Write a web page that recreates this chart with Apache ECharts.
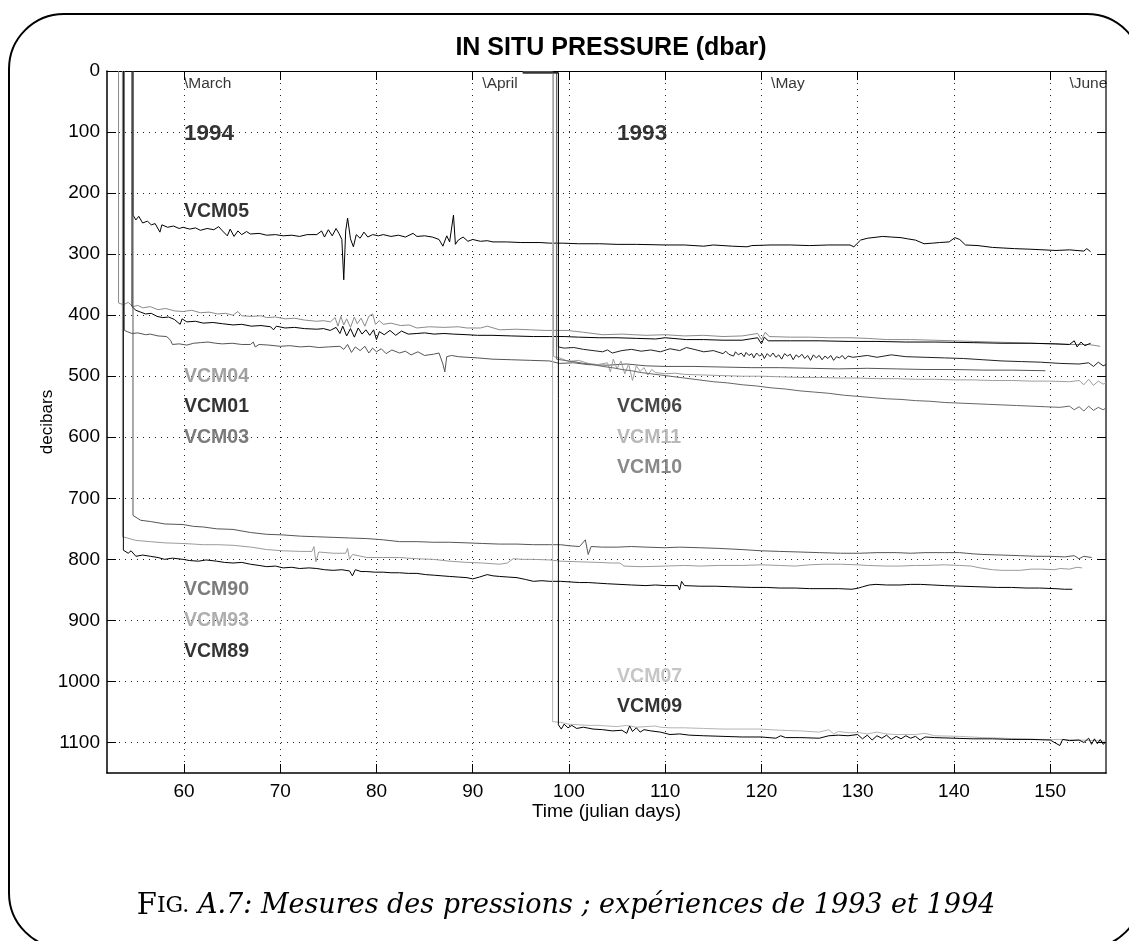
<!DOCTYPE html>
<html>
<head>
<meta charset="utf-8">
<script src="https://cdn.jsdelivr.net/npm/echarts@6/dist/echarts.min.js"></script>
<style>
html,body{margin:0;padding:0;background:#fff;}
#chart{width:1129px;height:941px;}
</style>
</head>
<body>
<div id="chart"></div>
<script>
// ---- tick labels ----
const xTicks = [60, 70, 80, 90, 100, 110, 120, 130, 140, 150];
const yTicks = [0, 100, 200, 300, 400, 500, 600, 700, 800, 900, 1000, 1100];
const monthNames = ['\\March', '\\April', '\\May', '\\June'];
const monthDays = [60, 91, 121, 152];

// ---- 1994 series [julian day, pressure dbar] ----
const vcm05 = [[54.7,0],[54.7,236],[55.0,244],[55.3,238],[55.7,249],[56.2,246],[56.6,252],[57.0,250],[57.5,264],[57.7,252],[58.3,256],[58.9,254],[59.5,258],[59.9,256],[60.6,259],[61.2,257],[61.7,261],[62.4,258],[63.1,260],[63.6,255],[64.0,262],[64.5,270],[64.8,259],[65.2,271],[65.6,262],[66.0,268],[66.5,263],[66.9,267],[67.8,266],[68.6,269],[69.5,268],[70.3,270],[71.2,269],[72.0,271],[72.8,268],[73.8,268],[74.3,262],[74.6,272],[75.0,260],[75.4,270],[75.8,258],[76.1,266],[76.4,276],[76.6,342],[76.8,262],[77.0,241],[77.3,275],[77.6,288],[77.9,268],[78.3,274],[78.7,264],[79.1,272],[79.6,268],[80.2,270],[80.7,268],[81.5,271],[82.3,269],[83.0,272],[83.8,266],[84.2,271],[85.0,270],[85.8,272],[86.5,276],[86.9,287],[87.3,270],[87.6,280],[88.0,236],[88.2,284],[88.5,277],[89.0,272],[89.5,279],[90.0,276],[90.8,279],[91.5,278],[92.1,280],[93.5,280],[95,281],[97,281],[98,282],[99.3,282],[101,283],[103.2,283],[105,284],[107,284],[110,285],[112,285],[114,287],[115,285],[117,287],[118.5,288],[119,286],[121,285],[123,285],[125,286],[127,285],[129.2,285],[129.6,288],[130.3,277],[131,274],[132.6,271],[133.5,272],[134.5,273],[135.2,275],[136,277],[136.9,283],[137.8,282],[138.5,281],[139.5,280],[140.1,273],[140.6,276],[141.2,285],[142.5,286],[144,289],[146.3,291],[148,292],[150.6,294],[152,293],[153.5,295],[153.8,291],[154.2,296]];
const vcm04 = [[53.2,0],[53.2,380],[53.7,383],[54.2,379],[54.7,386],[55.2,384],[55.7,388],[56.5,386],[57.3,391],[58.1,389],[59.0,393],[59.9,394],[60.8,392],[61.7,396],[62.6,395],[63.5,398],[64.3,397],[65.1,400],[65.6,394],[66.0,401],[67.0,402],[68.0,401],[68.6,404],[69.5,403],[70.5,406],[71.5,405],[72.5,408],[73.8,410],[74.5,409],[75.2,411],[75.7,404],[76.0,418],[76.3,402],[76.6,416],[76.9,406],[77.3,420],[77.7,403],[78.0,414],[78.4,405],[78.8,418],[79.2,402],[79.6,398],[79.9,415],[80.3,409],[80.7,415],[81.5,413],[82.5,417],[83.4,416],[84.2,421],[85.5,419],[87,420],[88.5,419],[89.4,421],[90.8,421],[91.5,418],[92.8,424],[94.5,423],[96,424],[97.5,425],[99.8,425],[101.5,428],[103.5,432],[105.5,431],[108,433],[110,432],[112,434],[114,433],[116,435],[118,434],[119.6,430],[120,440],[120.4,428],[120.8,435],[123,436],[125,436],[127,437],[129.2,437],[131,438],[133,440],[135.5,440],[137.8,441],[140,442],[142,443],[144,444],[146.3,445],[148,446],[150,447],[152,448],[154,448],[155.2,451]];
const vcm01 = [[54.6,0],[54.6,386],[55.0,392],[55.5,395],[56.0,398],[56.6,397],[57.2,402],[57.8,404],[58.4,403],[59.0,407],[59.6,415],[59.8,406],[60.3,411],[61.2,410],[62.0,413],[63.0,412],[64.0,414],[65.1,416],[66.0,415],[67.0,418],[68.0,417],[69.0,419],[69.3,424],[69.6,418],[70.5,421],[71.5,420],[72.5,422],[73.8,423],[74.5,422],[75.2,425],[75.8,420],[76.2,430],[76.5,418],[76.9,434],[77.3,422],[77.7,436],[78.1,421],[78.5,431],[78.9,424],[79.3,433],[79.7,424],[80.0,440],[80.3,427],[80.8,432],[81.4,425],[82.0,433],[82.6,426],[83.3,431],[84.2,430],[85.0,429],[86.0,431],[87.0,430],[88.0,431],[89.4,432],[90.5,433],[92,433],[94,434],[96.3,435],[98,435],[99.5,435],[101,436],[103.2,437],[105,437],[107,438],[109,439],[110,437],[112.2,440],[114,440],[116,441],[118,441],[119.6,437],[120,447],[120.3,436],[120.7,442],[123,442],[126,442],[129,443],[132,443],[135,444],[138,444],[142,445],[145,446],[148,446],[150.6,447],[152,448],[152.5,442],[152.8,452],[153.2,444],[153.6,450],[154.2,446]];
const vcm03 = [[53.8,0],[53.8,425],[54.1,427],[54.6,430],[55.2,429],[56.0,432],[56.5,431],[57.3,434],[58.2,435],[58.6,441],[58.8,448],[59.5,447],[60.3,449],[61.0,446],[61.7,445],[62.5,444],[63.3,446],[64.0,447],[65.0,446],[66.0,448],[66.9,448],[67.2,444],[67.4,452],[67.8,448],[68.8,449],[70.0,451],[71.0,450],[72.1,452],[73.0,451],[74.0,453],[75.0,452],[76.2,451],[76.6,456],[77.0,448],[77.4,461],[77.8,452],[78.3,458],[78.8,451],[79.2,462],[79.6,454],[80.0,460],[80.5,455],[81.0,463],[81.6,457],[82.4,462],[83.0,459],[83.6,465],[84.3,460],[85.0,466],[85.9,464],[86.5,462],[86.9,480],[87.1,493],[87.3,468],[87.8,466],[88.5,468],[89.4,469],[90.5,470],[92,472],[94,473],[96,474],[98,475],[99,479],[100.5,478],[102,481],[104,482],[106,480],[108,483],[110,484],[113,484],[116,485],[119,486],[122,486],[125,487],[128,488],[131,487],[134,488],[137,489],[140,489],[143,490],[146,490],[149.5,491]];
const vcm90 = [[54.7,0],[54.7,728],[55.5,736],[56.5,738],[58,742],[59.9,743],[61,746],[62,747],[63.4,750],[65.1,751],[66.9,756],[68.6,759],[70.3,760],[72.1,762],[73.8,763],[75.5,764],[77.2,765],[79,766],[80.7,768],[82.4,771],[84.2,771],[85.9,772],[87.6,772],[89.4,773],[91,774],[92.8,775],[94.6,775],[96.3,776],[98,776],[99.1,776],[100.2,778],[101.1,779],[101.7,768],[102,792],[102.3,779],[103.5,780],[105,780],[106.5,779],[108,780],[110,781],[111.5,780],[113.6,781],[115.5,782],[118,784],[120,786],[121.9,787],[124,788],[126,789],[128.2,790],[130.2,790],[132,789],[134,789],[135.5,790],[137,789],[139,789],[140.6,789],[142,791],[143,792],[145,793],[146.9,794],[148.5,795],[150,795],[151.5,796],[152.5,794],[153,799],[153.5,795],[154.3,797]];
const vcm93 = [[53.6,0],[53.6,763],[54.1,765],[55,769],[56.5,771],[58,773],[59.9,774],[61,775],[62,776],[63.5,776],[65.1,777],[67,780],[68.6,784],[70.3,786],[72.1,787],[73.3,787],[73.5,779],[73.7,804],[74,788],[75.5,790],[76.8,790],[77,782],[77.2,800],[77.5,792],[79,797],[80.7,797],[82.4,797],[84.2,799],[85.9,800],[87.6,803],[89.4,805],[91,806],[92.8,808],[93.6,806],[94.2,799],[95.2,800],[96.3,800],[98,801],[99.1,803],[101,804],[103,805],[104.5,806],[105.3,806],[105.7,811],[107.5,812],[110,811],[112,810],[113.6,811],[115.5,810],[118,810],[120,809],[121.9,810],[123.5,811],[125,809],[126.5,808],[128.2,808],[130,809],[131,810],[133,811],[134.4,811],[136,810],[137,810],[139,809],[140.6,810],[141.8,811],[142.7,814],[144,817],[145,818],[146.9,818],[148,816],[149,816],[150.5,817],[151,815],[152,816],[152.8,813],[153.3,814]];
const vcm89 = [[53.7,0],[53.7,785],[54.2,790],[54.5,786],[55,795],[55.7,793],[56.5,795],[57.3,797],[58,800],[58.8,798],[59.9,800],[60.6,802],[61.5,803],[62.3,801],[63.4,803],[64.2,805],[65.1,806],[66,805],[66.9,808],[67.8,810],[68.6,812],[69.5,811],[70.3,814],[71.2,813],[72,815],[73,814],[73.8,815],[74.6,817],[75.5,818],[76.4,817],[77.2,819],[77.5,827],[77.8,817],[78.4,820],[79,820],[79.8,821],[80.7,821],[81.5,822],[82.4,822],[83.3,823],[84.2,823],[85.1,825],[86,826],[86.8,827],[87.6,828],[88.5,829],[89.4,830],[90,832],[90.7,829],[91.5,825],[92.1,827],[92.8,828],[93.7,829],[94.6,830],[95.5,833],[96.3,836],[97.2,835],[98,836],[99.1,836],[100.1,837],[101.1,838],[102,838],[103,839],[104,840],[105.3,841],[106.5,842],[108,843],[109,842],[110,843],[111.3,843],[111.5,850],[111.7,836],[112,843],[113.6,844],[115.2,844],[117,845],[119,846],[120.5,846],[121.9,847],[123.5,847],[125,848],[126.5,848],[128,848],[129.4,849],[130.1,847],[130.5,845],[131.2,842],[131.9,841],[133,842],[134.4,842],[135.5,841],[136.5,841],[137.8,842],[139,843],[140.8,844],[142.7,845],[144.5,846],[146,846],[147.5,847],[148.9,847],[150.5,848],[151.5,849],[152.3,849]];

// ---- 1993 series [julian day, pressure dbar] ----
const vcm06 = [[95.2,3],[98.9,3],[98.9,452],[99.5,454],[100.5,453],[101.5,456],[102.5,458],[103.5,460],[104,457],[104.5,462],[105.5,458],[106.5,456],[107.5,459],[108.5,457],[109.5,460],[110.5,455],[111.5,458],[112.2,453],[113,456],[114,460],[115,458],[116,463],[116.3,459],[116.6,464],[116.8,461],[117.1,467],[117.3,460],[117.6,465],[117.9,462],[118.2,468],[118.4,461],[118.7,466],[119,463],[119.2,470],[119.5,462],[119.8,467],[120.1,464],[120.3,471],[120.6,463],[120.9,468],[121.2,462],[121.5,469],[121.8,465],[122.1,472],[122.4,463],[122.7,467],[123,464],[123.3,473],[123.6,465],[123.9,469],[124.2,464],[124.5,471],[124.8,466],[125.1,474],[125.4,465],[125.7,470],[126,466],[126.3,473],[126.6,467],[126.9,471],[127.2,466],[127.5,474],[127.8,468],[128.1,470],[128.4,466],[128.7,472],[129,467],[129.5,469],[130,468],[131,466],[132,469],[133.5,465],[135,468],[137,469],[139,470],[141,471],[143,473],[145,475],[147,476],[149,477],[151,479],[153,480],[154,478],[154.5,484],[155,477],[155.5,483],[155.8,481]];
const vcm11 = [[95.2,2],[98.4,2],[98.4,468],[99,470],[100,476],[101,474],[102,479],[103,481],[104,478],[104.3,493],[104.6,472],[105,488],[105.4,475],[105.8,496],[106.2,480],[106.6,507],[107,483],[107.4,492],[107.8,486],[108.2,498],[108.6,489],[109,494],[110,496],[111,495],[112,497],[114,498],[116,499],[118,500],[120,500],[122,501],[124,502],[126,502],[128,503],[130,503],[132,504],[134,504],[136,505],[138,505],[140,506],[142,506],[144,507],[146,507],[148,508],[150,508],[152,509],[153,507],[153.5,514],[154,505],[154.5,515],[155,508],[155.5,513],[155.8,511]];
const vcm10 = [[95.2,3],[98.7,3],[98.7,472],[99.5,474],[100.5,476],[101.5,479],[102.5,481],[103.5,484],[104.5,486],[105.5,489],[106.5,491],[107.5,494],[108.5,496],[109.5,498],[110.5,500],[112,503],[113.5,506],[115,509],[116.5,511],[118,514],[119.5,516],[121,519],[122.5,521],[124,524],[125.5,526],[127,528],[128.5,531],[130,533],[131.5,535],[133,537],[134.5,538],[136,540],[137.5,541],[139,543],[140.5,544],[142,545],[143.5,546],[145,547],[146.5,548],[148,549],[149.5,550],[151,551],[152,549],[152.5,555],[153,550],[153.5,557],[154,549],[154.5,556],[155,551],[155.5,555],[155.8,552]];
const vcm07 = [[95.2,2],[98.3,2],[98.3,1066],[99.1,1067],[100,1070],[101,1071],[102,1072],[103,1072],[104,1073],[105,1074],[106,1072],[107,1075],[108,1074],[109,1073],[109.5,1075],[110.5,1076],[112,1076],[114,1077],[116,1078],[118,1078],[119.8,1078],[122,1080],[124,1081],[126,1083],[127,1079],[127.5,1086],[128,1082],[129,1084],[130.2,1084],[131,1086],[132,1083],[133,1086],[134,1087],[136,1087],[137,1085],[138,1089],[140.6,1090],[143,1092],[145,1093],[147,1094],[149,1095],[151,1095],[153,1096],[155,1097],[155.8,1098]];
const vcm09 = [[95.2,3],[98.9,3],[98.9,1071],[99.2,1078],[99.5,1070],[99.9,1076],[100.3,1072],[100.8,1077],[101.5,1075],[102.5,1078],[103.5,1079],[104.5,1081],[105.5,1080],[106,1085],[106.3,1073],[106.6,1082],[107,1076],[107.4,1083],[107.8,1079],[108.5,1081],[109.5,1083],[110.5,1087],[111.5,1086],[112.5,1088],[114,1089],[116,1090],[118,1091],[120,1091],[121.5,1093],[122,1089],[122.5,1092],[124,1092],[126,1093],[127,1089],[128,1088],[129,1089],[130,1087],[130.5,1094],[131,1088],[131.5,1096],[132,1089],[132.5,1093],[133,1088],[133.5,1095],[134,1090],[134.5,1094],[135,1089],[135.5,1093],[136,1090],[136.5,1096],[137,1091],[138,1092],[140,1093],[142,1094],[144,1094],[146,1095],[148,1095],[150,1096],[151,1105],[151.3,1095],[152,1097],[153,1096],[153.5,1100],[154,1093],[154.3,1103],[154.6,1094],[154.9,1102],[155.2,1095],[155.5,1103],[155.8,1099]];

// ---- series names and label text ----
const seriesNames = ['VCM05','VCM04','VCM01','VCM03','VCM90','VCM93','VCM89','VCM06','VCM11','VCM10','VCM07','VCM09'];
const seriesData = [vcm05, vcm04, vcm01, vcm03, vcm90, vcm93, vcm89, vcm06, vcm11, vcm10, vcm07, vcm09];
const yearLabels = ['1994', '1993'];

// ---- styling (kept apart from data) ----
const lineColors = {VCM05:'#000',VCM04:'#8a8a8a',VCM01:'#000',VCM03:'#555',VCM90:'#555',VCM93:'#9a9a9a',VCM89:'#000',VCM06:'#222',VCM11:'#9e9e9e',VCM10:'#666',VCM07:'#b4b4b4',VCM09:'#000'};
const labelColors = {VCM05:'#000',VCM04:'#8a8a8a',VCM01:'#000',VCM03:'#5a5a5a',VCM06:'#1a1a1a',VCM11:'#a8a8a8',VCM10:'#6a6a6a',VCM90:'#5a5a5a',VCM93:'#9a9a9a',VCM89:'#000',VCM07:'#b8b8b8',VCM09:'#000'};
// annotation anchor points in data coordinates (day, dbar)
const labelAnchors = {VCM05:[60,231],VCM04:[60,501],VCM01:[60,550],VCM03:[60,601],VCM90:[60,849],VCM93:[60,900],VCM89:[60,951],VCM06:[105,550],VCM11:[105,601],VCM10:[105,650],VCM07:[105,992],VCM09:[105,1041]};
const yearAnchors = [[60,103],[105,103]];
const monthLabelValue = 21;

const FONT = 'Liberation Sans, Arial, Helvetica, sans-serif';
const chart = echarts.init(document.getElementById('chart'), null, {renderer:'canvas'});

const lineSeries = seriesNames.map((n, i) => ({
  name: n, type: 'line', data: seriesData[i], showSymbol: false, symbol: 'none',
  xAxisIndex: 0, yAxisIndex: 0, clip: true, animation: false,
  lineStyle: {color: lineColors[n], width: 1}, z: 3
}));

const txtSeries = {
  type: 'scatter', symbolSize: 0, xAxisIndex: 0, yAxisIndex: 0, animation: false, silent: true, z: 5,
  data: [
    ...seriesNames.map(n => ({value: labelAnchors[n], name: n,
      label: {show: true, position: 'right', distance: 0, formatter: n, color: labelColors[n], fontSize: 19.5, fontWeight: 'bold', fontFamily: FONT}})),
    ...yearLabels.map((y, i) => ({value: yearAnchors[i], name: y,
      label: {show: true, position: 'right', distance: 0, formatter: y, color: '#000', fontSize: 22.5, fontWeight: 'bold', fontFamily: FONT}})),
    ...monthNames.map((m, i) => ({value: [monthDays[i], monthLabelValue], name: m,
      label: {show: true, position: 'right', distance: 0, formatter: m, color: '#000', fontSize: 15.5, fontFamily: FONT}}))
  ]
};

const gridLine = {show: true, lineStyle: {type: [1, 5], color: '#222', width: 1}};
const plainNum = v => String(v);

const option = {
  backgroundColor: '#fff',
  animation: false,
  title: {
    text: 'IN SITU PRESSURE (dbar)', left: 606, top: 31, textAlign: 'center',
    textStyle: {fontSize: 25, fontWeight: 'bold', color: '#000', fontFamily: FONT}
  },
  grid: {left: 107, top: 71, width: 999, height: 702, containLabel: false},
  xAxis: [
    {type: 'value', position: 'bottom', min: 52, max: 155.8,
     name: 'Time (julian days)', nameLocation: 'middle', nameGap: 29, nameMoveOverlap: false,
     nameTextStyle: {fontSize: 19, color: '#000', fontFamily: FONT},
     axisLine: {show: true, onZero: false, lineStyle: {color: '#000', width: 1.5}},
     axisTick: {show: true, inside: true, length: 9, customValues: xTicks, lineStyle: {color: '#000'}},
     axisLabel: {customValues: xTicks, formatter: plainNum, fontSize: 19, color: '#000', margin: 9, fontFamily: FONT},
     splitLine: gridLine},
    {type: 'value', position: 'top', min: 52, max: 155.8,
     axisLine: {show: true, onZero: false, lineStyle: {color: '#000', width: 1.2}},
     axisTick: {show: true, inside: true, length: 9, customValues: xTicks, lineStyle: {color: '#000'}},
     axisLabel: {show: false, customValues: xTicks},
     splitLine: {show: false}}
  ],
  yAxis: [
    {type: 'value', inverse: true, min: 0, max: 1150, position: 'left',
     name: 'decibars', nameLocation: 'middle', nameGap: 51, nameRotate: 90, nameMoveOverlap: false,
     nameTextStyle: {fontSize: 17, color: '#000', fontFamily: FONT},
     axisLine: {show: true, onZero: false, lineStyle: {color: '#000', width: 1.5}},
     axisTick: {show: true, inside: true, length: 9, customValues: yTicks, lineStyle: {color: '#000'}},
     axisLabel: {customValues: yTicks, formatter: plainNum, fontSize: 19, color: '#000', margin: 7, fontFamily: FONT},
     splitLine: gridLine},
    {type: 'value', inverse: true, min: 0, max: 1150, position: 'right',
     axisLine: {show: true, onZero: false, lineStyle: {color: '#333', width: 1.5}},
     axisTick: {show: true, inside: true, length: 9, customValues: yTicks, lineStyle: {color: '#000'}},
     axisLabel: {show: false, customValues: yTicks},
     splitLine: {show: false}}
  ],
  series: [...lineSeries, txtSeries],
  graphic: [
    {type: 'rect', silent: true, z: 0,
     shape: {x: 9, y: 14, width: 1133, height: 934, r: 55},
     style: {fill: 'none', stroke: '#000', lineWidth: 2}},
    {type: 'text', silent: true, x: 566, y: 906,
     style: {
       text: '{a|F}{b|IG.}{c|\u00a0A.7: Mesures des pressions\u00a0; expériences de 1993 et 1994}',
       align: 'center', verticalAlign: 'middle',
       rich: {
         a: {fontSize: 29, fontFamily: 'DejaVu Serif, serif', fill: '#000'},
         b: {fontSize: 22, fontFamily: 'DejaVu Serif, serif', fill: '#000'},
         c: {fontSize: 27, fontStyle: 'italic', fontFamily: 'DejaVu Serif, serif', fill: '#000'}
       }
     }}
  ]
};
chart.setOption(option);
</script>
</body>
</html>
